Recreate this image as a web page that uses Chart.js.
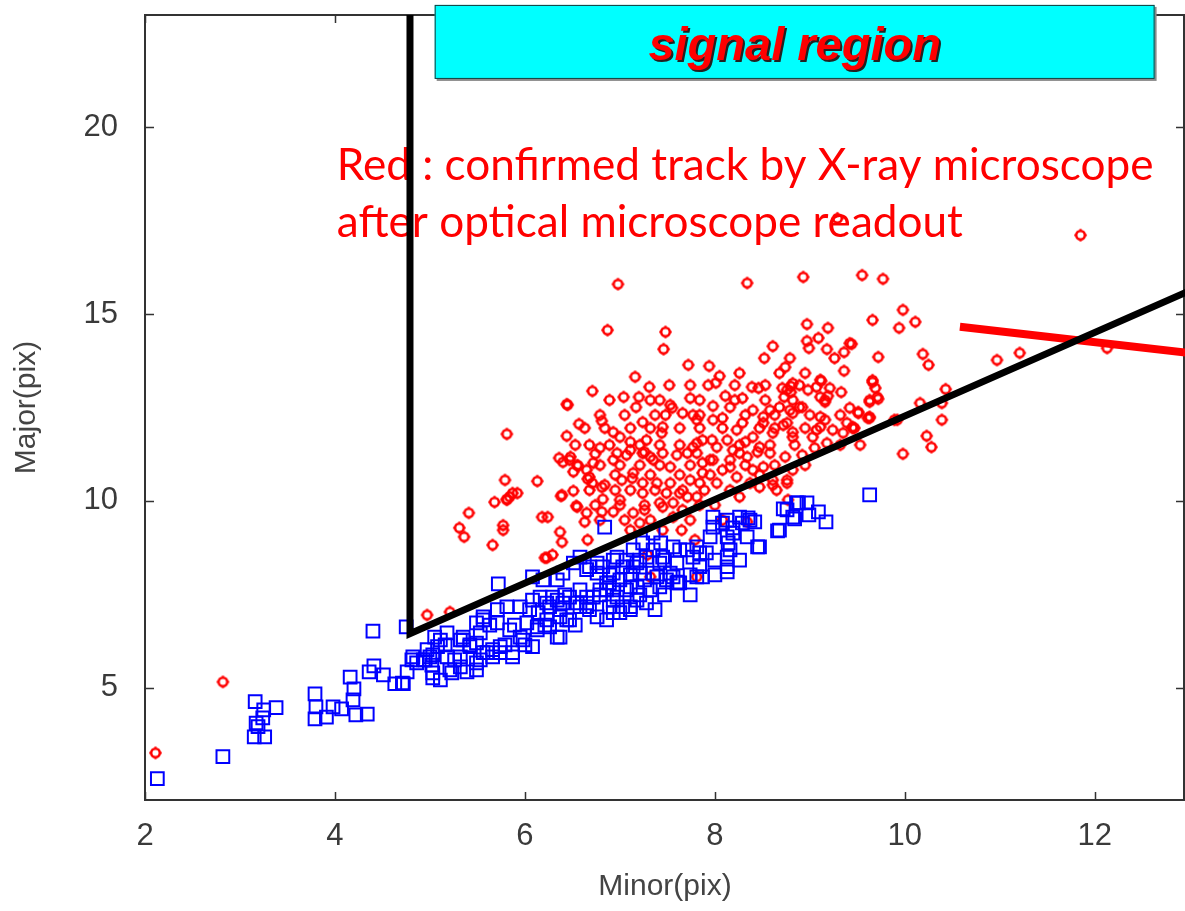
<!DOCTYPE html>
<html>
<head>
<meta charset="utf-8">
<script src="https://cdn.jsdelivr.net/npm/chart.js@4.4.1/dist/chart.umd.min.js"></script>
<style>
  html, body { margin: 0; padding: 0; background: #fff; overflow: hidden; }
  #wrap { width: 1185px; height: 911px; position: relative; overflow: hidden; }
  #c { display: block; }
</style>
</head>
<body>
<div id="wrap"><canvas id="c"></canvas></div>
<script>
// ---- data (Minor, Major) in pix ----
const xTicks = [2, 4, 6, 8, 10, 12];
const yTicks = [5, 10, 15, 20];

// red : confirmed by X-ray microscope
const redTracks = [
  [2.11,3.26],[2.82,5.16],[4.97,6.95],[5.21,7.03],
  [11.85,17.11],[12.13,14.09],[10.97,13.77],[11.21,13.96],[9.29,17.56],
  [9.55,16.04],[9.77,15.94],[9.98,15.11],[9.66,14.84],[9.94,14.63],[10.11,14.79],
  [9.44,14.20],[9.72,13.85],[10.19,13.93],[10.25,13.64],[9.66,13.18],[9.69,13.02],
  [9.72,12.73],[9.63,12.65],[9.51,12.38],[9.63,12.22],[9.45,11.95],[10.43,12.99],
  [10.16,12.62],[10.39,12.62],[10.39,12.17],[10.23,11.74],[10.28,11.44],[9.98,11.26],
  [9.92,12.17],[8.34,15.83],[8.93,15.99],[8.97,14.73],[9.19,14.63],[9.09,14.36],
  [8.97,14.28],[8.99,14.09],[8.61,14.14],[8.52,13.82],[9.18,14.06],[9.26,13.82],
  [9.36,13.98],[9.42,14.22],[9.36,13.48],[8.79,13.82],[8.74,13.58],[8.68,13.42],
  [8.95,13.42],[9.12,13.21],[8.26,13.42],[8.39,13.05],[8.46,13.02],[8.71,13.02],
  [8.80,13.07],[8.80,12.91],[8.98,12.97],[9.21,13.02],[9.33,12.91],[8.29,12.75],
  [8.73,12.78],[8.82,12.70],[9.16,12.70],[9.19,12.81],[8.40,12.43],[8.58,12.43],
  [8.68,12.51],[8.82,12.35],[8.92,12.51],[9.42,12.49],[9.51,12.35],[9.11,12.25],
  [9.16,12.17],[8.29,12.09],[8.51,12.09],[8.72,12.03],[8.82,11.84],[9.07,11.90],
  [9.24,11.90],[9.39,12.09],[9.47,11.95],[9.61,12.22],[9.89,12.17],[8.32,11.58],
  [8.45,11.31],[8.58,11.28],[8.74,11.18],[8.92,11.23],[9.05,11.42],
  [6.98,15.80],[6.87,14.57],[7.48,14.52],[7.46,14.06],[7.72,13.64],[7.94,13.61],
  [8.05,13.34],[8.01,13.16],[7.93,13.10],[7.16,13.32],[7.31,13.05],[7.52,13.10],
  [6.71,12.94],[6.44,12.59],[7.04,12.78],[7.20,12.78],[7.17,12.51],[7.74,12.75],
  [7.53,12.57],[7.98,12.54],[8.11,12.81],[8.21,12.70],[8.16,12.51],[6.57,12.06],
  [6.81,12.14],[7.24,12.11],[6.44,11.74],[6.93,11.84],[7.11,11.95],[7.48,12.30],
  [7.55,12.49],[7.66,12.35],[7.77,12.30],[7.81,12.17],[7.45,11.98],[7.44,11.82],
  [7.28,11.63],[7.11,11.58],[7.00,11.71],[7.98,12.17],[8.08,12.22],[8.23,11.90],
  [7.81,11.55],[7.87,11.63],[7.97,11.63],[8.13,11.63],[8.08,11.95],[6.36,11.15],
  [6.48,11.18],[6.74,11.26],[6.79,11.42],[6.97,11.28],[7.07,11.23],[7.26,11.31],
  [7.45,11.28],[7.60,11.23],[7.71,11.28],[5.81,11.79],[6.45,12.57],[5.79,10.56],
  [6.13,10.53],[5.92,10.21],[5.84,10.11],[5.81,10.05],[6.18,9.57],[6.24,9.57],
  [6.38,10.13],[6.51,10.27],[6.56,10.94],[6.66,10.59],[6.54,9.87],[6.65,9.68],
  [6.84,10.43],[6.82,10.05],[7.02,10.56],[7.13,10.61],[7.32,11.18],[7.53,10.91],
  [7.24,10.48],[7.39,10.48],[7.53,10.48],[7.66,10.29],[7.56,9.95],[7.71,10.11],
  [7.45,9.84],[7.84,10.48],[7.87,11.02],[7.77,11.44],[8.02,11.44],[7.98,11.10],
  [8.16,10.91],[8.19,11.36],[8.40,11.71],[8.61,11.82],[8.51,12.25],[8.47,11.44],
  [8.34,11.18],[8.40,10.83],[8.51,10.91],[8.37,10.48],[8.26,10.11],[8.61,10.56],
  [8.76,10.56],[8.65,10.29],[8.82,11.71],[8.76,12.09],[8.89,12.51],[8.79,12.43],
  [8.82,13.15],[8.76,12.97],[9.07,13.05],[9.11,13.24],[9.11,12.78],[9.16,12.65],
  [9.11,11.98],[9.03,11.71],[9.18,11.55],[9.35,11.82],[9.45,11.98],[9.63,12.70],
  [9.63,12.25],[9.71,12.78],[9.66,13.23],[8.82,10.83],[8.76,10.48],
  [6.39,10.16],[6.37,9.17],[6.39,8.90],[6.23,8.48],[6.29,8.56],[6.55,9.84],
  [6.63,9.44],[6.66,8.96],[6.81,9.71],[6.93,9.71],[7.00,10.03],[6.71,10.48],
  [6.81,10.37],[6.68,10.64],[6.65,10.83],[6.40,11.04],[6.47,11.10],[6.55,10.96],
  [6.51,10.78],[6.72,11.02],[6.93,11.10],[7.14,10.75],[7.11,10.29],[7.24,10.21],
  [7.14,9.68],[7.26,9.76],[7.21,9.41],[7.11,9.22],[7.32,9.49],[7.42,9.95],
  [7.49,10.21],[7.63,10.21],[7.66,9.76],[7.56,9.57],[7.65,9.22],[7.45,9.22],
  [7.74,10.56],[7.81,10.11],[7.87,10.75],[8.02,10.48],[8.08,10.83],[8.16,11.10],
  [8.26,11.28],[8.23,10.64],[7.95,11.10],[7.81,11.28],[7.35,11.10],[7.24,11.28],
  [7.11,11.36],[8.08,9.49],[7.79,8.96],[7.81,7.97],[7.29,8.56],[7.32,7.97],
  [8.77,10.03],[8.34,9.44],[8.61,10.43],[8.47,10.37],
  [5.68,9.97],[5.81,10.03],[5.87,10.21],[5.41,9.68],[5.31,9.28],[5.36,9.04],
  [5.66,8.82],[5.77,9.22],[5.77,9.35],[6.21,8.48],
  // dense core
  [6.79,12.30],[7.05,12.30],[7.37,12.30],[7.84,12.30],[8.32,12.30],[8.63,12.30],[9.00,12.30],[9.32,12.30],
  [6.63,11.95],[6.84,11.95],[7.32,11.95],[7.63,11.95],[7.84,11.95],[8.47,11.95],[8.63,11.95],[8.95,11.95],
  [6.53,11.50],[6.68,11.50],[6.89,11.50],[7.21,11.50],[7.42,11.50],[7.63,11.50],[8.26,11.50],[8.58,11.50],
  [8.84,11.50],[9.32,11.50],[9.53,11.50],
  [6.79,10.96],[7.00,10.96],[7.21,10.96],[7.42,10.96],[7.74,10.96],[8.32,10.96],[8.63,10.96],[8.95,10.96],
  [6.95,10.70],[7.32,10.70],[7.63,10.70],[7.95,10.70],[8.47,10.70],
  [6.68,10.29],[6.95,10.29],[7.37,10.29],[7.89,10.29],[8.16,10.29],
  [6.74,9.89],[7.00,9.89],[7.26,9.89],[7.84,9.89],[8.00,9.89],
  [6.79,9.49],[7.05,9.49],[7.74,9.49],
  [6.89,12.70],[7.32,12.70],[7.42,12.70],[7.84,12.70],[8.53,12.70],
  [7.74,13.10],[8.21,13.10],[8.53,13.10],[8.89,13.10]
];

// blue : other candidates
const blueTracks = [
  [2.13,2.57],[2.82,3.16],[3.16,4.63],[3.25,4.41],[3.38,4.47],[3.17,4.06],[3.24,4.20],
  [3.19,3.96],[3.15,3.69],[3.26,3.69],[3.79,4.84],[3.80,4.49],[3.79,4.17],[3.91,4.22],
  [3.98,4.49],[4.07,4.44],[4.16,5.29],[4.20,4.97],[4.19,4.68],[4.22,4.28],[4.34,4.30],
  [4.40,6.52],[4.36,5.43],[4.41,5.59],[4.51,5.35],[4.63,5.11],[4.72,5.11],[4.75,6.63],
  [4.76,5.43],[4.81,5.75],[4.82,5.83],[4.97,6.02],[5.03,5.88],[5.03,5.27],[5.02,5.61],
  [5.11,6.28],[5.21,5.48],[5.32,5.56],[5.39,5.43],[5.49,5.48],[5.18,6.47],[5.32,6.28],
  [5.42,6.10],[5.53,6.47],[5.56,5.94],[5.66,6.02],[5.72,7.78],[5.05,6.36],[5.35,6.36],
  [5.49,6.74],[5.56,6.82],[5.71,7.09],[5.81,7.17],[5.95,7.17],[6.02,6.74],[6.14,7.01],
  [6.23,7.27],[6.34,7.35],[6.47,7.43],[6.58,7.62],[6.65,7.43],[6.79,7.62],[6.86,7.81],
  [7.00,7.89],[6.47,6.82],[6.37,6.36],[6.08,6.10],[5.98,6.28],[5.87,5.94],[5.74,5.94],
  [5.49,5.67],[5.23,5.40],[5.11,5.21],[5.00,5.83],[4.86,5.67],[6.51,8.34],[6.76,8.34],
  [6.84,9.30],[6.65,8.16],[6.93,8.42],[7.07,8.42],[7.14,8.24],[7.21,8.07],[7.28,8.50],
  [7.35,8.69],[7.42,8.34],[7.39,7.97],[7.42,7.70],[7.49,7.89],[7.56,7.97],[7.63,7.81],
  [7.56,8.77],[7.63,8.69],[7.71,8.69],[7.81,8.77],[7.95,9.04],[7.98,9.57],[8.13,9.49],
  [8.26,9.57],[8.37,9.49],[8.42,9.44],[8.68,9.22],[8.76,9.76],[8.86,9.95],[8.82,9.57],
  [8.14,8.88],[8.13,8.50],[8.13,8.24],[8.16,8.69],[8.47,8.77],[8.34,9.04],[8.19,9.14],
  [7.98,9.30],[7.84,8.61],[7.77,8.50],[7.84,8.24],[7.87,7.97],[7.60,7.81],[7.28,7.27],
  [7.11,7.17],[7.00,7.01],[6.89,7.17],[6.86,6.82],[6.76,6.90],[6.65,7.27],[7.18,7.70],
  [7.07,7.62],[6.93,7.62],[9.63,10.16],[8.35,9.55],[8.45,8.77],[8.66,9.20],[8.72,9.79],
  [8.88,9.95],[8.84,9.52],[8.99,9.63],[8.08,9.41],[8.19,9.28],[8.29,9.41],[8.13,9.04],
  [8.13,8.10],[7.60,8.34],[7.53,8.07],[7.61,7.83],[7.81,7.97],[7.91,8.61],[7.45,8.50],
  [7.35,9.14],[7.24,8.88],[7.14,8.69],[7.18,8.34],[7.03,8.24],[6.97,8.50],[6.82,8.24],
  [6.76,8.07],[6.68,8.24],[6.58,8.50],[6.40,8.07],[6.34,7.89],[6.19,7.89],[6.08,7.97],
  [6.16,7.43],[6.26,7.17],[6.40,7.27],[6.55,7.27],[6.65,7.17],[6.44,6.82],[6.26,6.63],
  [6.13,6.63],[6.89,7.81],[6.97,7.43],[7.03,7.17],[7.18,7.35],[7.11,7.70],[7.26,7.89],
  [7.32,7.62],[7.35,8.07],[6.93,8.07],[4.71,5.13],[4.93,5.75],[5.03,5.40],[5.08,6.10],
  [5.18,5.83],[5.32,5.83],[5.35,6.28],[5.49,6.20],[5.60,5.94],[5.66,5.83],[5.74,6.10],
  [5.87,5.83],[5.84,6.55],[5.71,6.74],[5.56,6.90],[5.95,6.36],[6.13,6.55],[6.23,6.82],
  [6.34,6.36],[6.37,6.90],[6.58,7.17],[6.72,7.43],[6.86,7.62],[6.93,7.35],[6.93,7.01],
  [6.08,7.35],[6.29,7.43],[9.09,9.71],[9.17,9.44],[8.97,9.95],[7.43,8.88],
  // dense core
  [4.95,5.75],[5.26,5.75],[5.53,5.75],
  [5.16,6.15],[5.42,6.15],[5.79,6.15],[6.00,6.15],
  [5.63,6.68],[5.89,6.68],[6.21,6.68],[6.53,6.68],
  [6.05,7.09],[6.37,7.09],[6.68,7.09],[7.11,7.09],[7.37,7.09],
  [6.42,7.49],[6.79,7.49],[7.21,7.49],[7.47,7.49],[7.74,7.49],
  [6.89,8.02],[7.11,8.02],[7.74,8.02],[8.00,8.02],
  [7.21,8.42],[7.47,8.42],[8.00,8.42],[8.26,8.42]
];

// cut lines drawn on the plot (data units)
const cutLine = [[4.79, 23], [4.79, 6.45], [13.2, 15.85]];
const redCut = [[10.58, 14.66], [13.2, 13.9]];

// annotation anchors (data units)
const boxCorners = [[5.05, 23.27], [12.63, 21.29]];
const noteAnchor = [4.02, 18.58, 17.06, 12.61];   // x left, baseline 1, baseline 2, x right
const noteLines = ['Red : confirmed track by X-ray microscope', 'after optical microscope readout'];

const toXY = arr => arr.map(([x, y]) => ({ x, y }));

// red marker: round ring with short nubs
function makeRedMarker() {
  const c = document.createElement('canvas');
  c.width = 15; c.height = 15;
  const g = c.getContext('2d');
  g.strokeStyle = '#ff0000';
  g.lineWidth = 2.5;
  g.beginPath(); g.arc(7.5, 7.5, 4.3, 0, Math.PI * 2); g.stroke();
  g.lineWidth = 2.2;
  g.beginPath();
  g.moveTo(7.5, 1.2); g.lineTo(7.5, 2.8);
  g.moveTo(7.5, 12.2); g.lineTo(7.5, 13.8);
  g.moveTo(1.2, 7.5); g.lineTo(2.8, 7.5);
  g.moveTo(12.2, 7.5); g.lineTo(13.8, 7.5);
  g.stroke();
  return c;
}

const zeroPad = s => { s.paddingTop = 0; s.paddingBottom = 0; s.paddingLeft = 0; s.paddingRight = 0; };

const frame = {
  id: 'frame',
  beforeDatasetsDraw(chart) {
    const { ctx, chartArea: a, scales: { x, y } } = chart;
    ctx.save();
    // red note text
    const left = x.getPixelForValue(noteAnchor[0]);
    const right = x.getPixelForValue(noteAnchor[3]);
    ctx.font = '44px Lato';
    const w = ctx.measureText(noteLines[0]).width;
    const size = 44 * (right - left) / w;
    ctx.font = size.toFixed(1) + 'px Lato';
    ctx.fillStyle = '#ff0000';
    ctx.textBaseline = 'alphabetic';
    ctx.textAlign = 'left';
    ctx.fillText(noteLines[0], left, y.getPixelForValue(noteAnchor[1]));
    ctx.fillText(noteLines[1], left, y.getPixelForValue(noteAnchor[2]));

    // axes frame with inward ticks
    ctx.strokeStyle = '#333';
    ctx.lineWidth = 2;
    ctx.strokeRect(a.left, a.top, a.right - a.left - 1, a.bottom - a.top);
    ctx.lineWidth = 1.5;
    ctx.beginPath();
    xTicks.forEach(v => {
      const p = Math.round(x.getPixelForValue(v)) + 0.5;
      ctx.moveTo(p, a.bottom); ctx.lineTo(p, a.bottom - 8);
      ctx.moveTo(p, a.top); ctx.lineTo(p, a.top + 8);
    });
    yTicks.forEach(v => {
      const p = Math.round(y.getPixelForValue(v)) + 0.5;
      ctx.moveTo(a.left, p); ctx.lineTo(a.left + 9, p);
      ctx.moveTo(a.right, p); ctx.lineTo(a.right - 9, p);
    });
    ctx.stroke();
    ctx.restore();
  },
  afterDraw(chart) {
    const { ctx, scales: { x, y } } = chart;
    const x0 = x.getPixelForValue(boxCorners[0][0]);
    const y0 = y.getPixelForValue(boxCorners[0][1]);
    const x1 = x.getPixelForValue(boxCorners[1][0]);
    const y1 = y.getPixelForValue(boxCorners[1][1]);
    ctx.save();
    ctx.fillStyle = '#8a8a8a';
    ctx.fillRect(x0 + 2, y0 + 2, x1 - x0, y1 - y0);
    ctx.fillStyle = '#00ffff';
    ctx.fillRect(x0, y0, x1 - x0, y1 - y0);
    ctx.strokeStyle = '#1a3a3a';
    ctx.lineWidth = 1;
    ctx.strokeRect(x0 + 0.5, y0 + 0.5, x1 - x0 - 1, y1 - y0 - 1);
    ctx.font = 'bold italic 47px "Liberation Sans"';
    ctx.textAlign = 'center';
    ctx.textBaseline = 'alphabetic';
    const cx = (x0 + x1) / 2;
    const by = y0 + (y1 - y0) * 0.74;
    ctx.fillStyle = '#222';
    ctx.fillText('signal region', cx + 2, by + 2);
    ctx.fillStyle = '#ff0000';
    ctx.fillText('signal region', cx, by);
    ctx.restore();
  }
};

const tickFont = { family: 'Liberation Sans', size: 31 };
const titleFont = { family: 'Liberation Sans', size: 30 };

new Chart(document.getElementById('c'), {
  type: 'scatter',
  data: {
    datasets: [
      { data: toXY(cutLine), showLine: true, borderColor: '#000', borderWidth: 7, pointRadius: 0,
        borderJoinStyle: 'miter', order: 0 },
      { data: toXY(redCut), showLine: true, borderColor: '#ff0000', borderWidth: 8, pointRadius: 0, order: 0 },
      { data: toXY(blueTracks), pointStyle: 'rect', pointRadius: 9, borderColor: '#0000ff',
        backgroundColor: 'rgba(0,0,0,0)', borderWidth: 2, order: 1 },
      { data: toXY(redTracks), pointStyle: makeRedMarker(), pointRadius: 8, order: 2 }
    ]
  },
  options: {
    responsive: true,
    maintainAspectRatio: false,
    animation: false,
    layout: { autoPadding: false, padding: { top: 15, right: 0, left: 0, bottom: 0 } },
    plugins: { legend: { display: false }, tooltip: { enabled: false } },
    scales: {
      x: {
        type: 'linear', min: 2, max: 12.95,
        afterBuildTicks: s => { s.ticks = xTicks.map(v => ({ value: v })); },
        afterFit: s => { s.height = 111; zeroPad(s); },
        grid: { display: false, drawTicks: false },
        border: { display: false },
        ticks: { font: tickFont, color: '#3a3a3a', padding: 18, maxRotation: 0, autoSkip: false },
        title: { display: true, text: 'Minor(pix)', font: titleFont, color: '#444', padding: { top: 0, bottom: 6 } }
      },
      y: {
        type: 'linear', min: 2, max: 23,
        afterBuildTicks: s => { s.ticks = yTicks.map(v => ({ value: v })); },
        afterFit: s => { s.width = 145; zeroPad(s); },
        grid: { display: false, drawTicks: false },
        border: { display: false },
        ticks: { font: tickFont, color: '#3a3a3a', padding: 27 },
        title: { display: true, text: 'Major(pix)', font: titleFont, color: '#444', padding: { top: 9, bottom: 0 } }
      }
    }
  },
  plugins: [frame]
});
</script>
</body>
</html>
